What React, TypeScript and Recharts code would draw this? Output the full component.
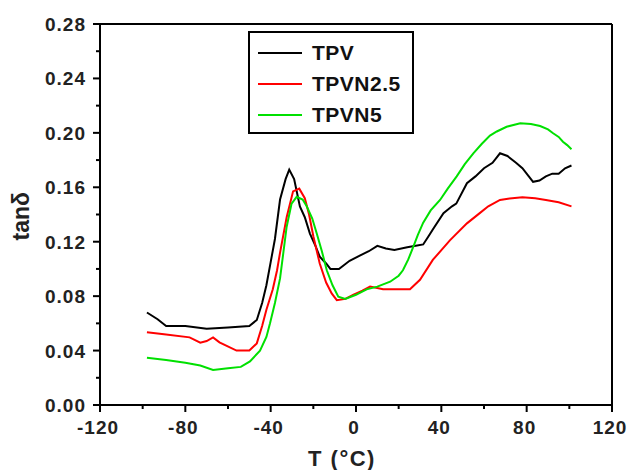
import { LineChart, Line, XAxis, YAxis, ReferenceLine, Legend } from "recharts";

const tpvT = [-98, -93, -89, -80, -70, -60, -50, -46.5, -44, -42, -40, -38, -35.6, -33, -31.3, -29, -26.3, -24, -21.6, -19, -17, -14, -12, -8, -3, 2, 6, 10, 14, 18, 24, 28, 31.5, 34, 36, 41, 45, 47, 52, 56, 60, 64, 67.5, 71, 75, 78, 81, 83, 86, 89, 92, 95, 98, 101];
const tpvV = [0.068, 0.063, 0.058, 0.058, 0.056, 0.057, 0.058, 0.0625, 0.075, 0.088, 0.105, 0.122, 0.151, 0.166, 0.173, 0.166, 0.146, 0.138, 0.126, 0.117, 0.109, 0.104, 0.1, 0.1, 0.106, 0.11, 0.113, 0.117, 0.115, 0.114, 0.116, 0.117, 0.118, 0.124, 0.129, 0.141, 0.146, 0.148, 0.163, 0.168, 0.174, 0.178, 0.185, 0.183, 0.178, 0.174, 0.168, 0.164, 0.165, 0.168, 0.17, 0.17, 0.174, 0.176];

const n25T = [-98, -90, -78, -73, -70, -67, -64, -60.6, -56, -50, -46.5, -44, -42, -39, -37, -35.6, -32.5, -29.5, -26.6, -24, -22, -20, -17, -14, -11.4, -9, -5, -1.4, 3, 6.6, 12.7, 20, 25.3, 30, 36, 44, 52, 58, 62, 67.5, 72, 78, 84, 89, 95, 101];
const n25V = [0.0534, 0.052, 0.0497, 0.0458, 0.047, 0.0497, 0.046, 0.0434, 0.04, 0.04, 0.0453, 0.058, 0.07, 0.085, 0.099, 0.112, 0.138, 0.157, 0.159, 0.152, 0.14, 0.124, 0.104, 0.09, 0.082, 0.077, 0.078, 0.081, 0.084, 0.087, 0.085, 0.085, 0.085, 0.092, 0.1066, 0.121, 0.1335, 0.141, 0.146, 0.1507, 0.1517, 0.1526, 0.152, 0.1507, 0.149, 0.146];

const n5T = [-98, -89, -80, -73, -67, -60, -54, -49.7, -45, -42, -40.3, -38, -35.6, -32.5, -30.2, -27.8, -25, -23.1, -20.5, -18.4, -16, -13.7, -11, -8.3, -5, 0, 5, 10, 16, 20, 22, 24.5, 26.8, 29, 31.5, 35, 39.4, 43, 47.2, 51, 55, 59, 62.8, 66, 70.6, 77, 82, 86.3, 90, 92.4, 95, 97, 99, 101];
const n5V = [0.0348, 0.033, 0.031, 0.029, 0.0257, 0.027, 0.028, 0.032, 0.04, 0.05, 0.06, 0.075, 0.093, 0.131, 0.148, 0.153, 0.151, 0.146, 0.137, 0.126, 0.113, 0.099, 0.088, 0.0796, 0.078, 0.081, 0.085, 0.087, 0.0906, 0.095, 0.099, 0.107, 0.116, 0.125, 0.134, 0.143, 0.1507, 0.159, 0.168, 0.177, 0.185, 0.192, 0.198, 0.201, 0.2045, 0.207, 0.2065, 0.205, 0.2025, 0.1997, 0.197, 0.1935, 0.191, 0.188];

const xTicks = [-120, -100, -80, -60, -40, -20, 0, 20, 40, 60, 80, 100, 120];
const yTicks = [0, 0.02, 0.04, 0.06, 0.08, 0.1, 0.12, 0.14, 0.16, 0.18, 0.2, 0.22, 0.24, 0.26, 0.28];

const series = [
  { name: "TPV", color: "#000000", data: tpvT.map((t, i) => ({ t, v: tpvV[i] })) },
  { name: "TPVN2.5", color: "#ff0000", data: n25T.map((t, i) => ({ t, v: n25V[i] })) },
  { name: "TPVN5", color: "#00e000", data: n5T.map((t, i) => ({ t, v: n5V[i] })) },
];

const FONT = "'Liberation Sans', Arial, sans-serif";

const XTick = ({ x, y, payload }: any) => {
  const major = payload.value % 40 === 0;
  return (
    <g>
      <line x1={x} x2={x} y1={y} y2={y + (major ? 7 : 4)} stroke="#000" strokeWidth={2} />
      {major && (
        <text x={x - 2} y={y + 29} textAnchor="middle" fontFamily={FONT} fontWeight="bold" fontSize={19} letterSpacing={1} fill="#222">
          {payload.value}
        </text>
      )}
    </g>
  );
};

const YTick = ({ x, y, payload }: any) => {
  const major = Math.round(payload.value * 100) % 4 === 0;
  return (
    <g>
      <line x1={x - (major ? 7 : 4)} x2={x} y1={y} y2={y} stroke="#000" strokeWidth={2} />
      {major && (
        <text x={x - 14} y={y + 7} textAnchor="end" fontFamily={FONT} fontWeight="bold" fontSize={19} letterSpacing={1} fill="#222">
          {payload.value.toFixed(2)}
        </text>
      )}
    </g>
  );
};

const LegendBox = () => (
  <div style={{ border: "2px solid #000", width: 162, height: 95, paddingTop: 4, boxSizing: "content-box", background: "#fff" }}>
    {series.map((s) => (
      <div key={s.name} style={{ display: "flex", alignItems: "center", height: 31 }}>
        <div style={{ marginLeft: 8, width: 44, height: 2, background: s.color }} />
        <span style={{ marginLeft: 10, fontFamily: FONT, fontWeight: "bold", fontSize: 21, letterSpacing: 0.5, color: "#111" }}>{s.name}</span>
      </div>
    ))}
  </div>
);

export default function App() {
  return (
    <div style={{ position: "absolute", left: 0, top: 0, width: 632, height: 470, background: "#fff" }}>
      <LineChart width={632} height={470} margin={{ top: 24, right: 20, bottom: 0, left: 30 }}>
        <XAxis
          type="number"
          dataKey="t"
          domain={[-120, 120]}
          ticks={xTicks}
          interval={0}
          tickSize={0}
          tickMargin={0}
          tick={<XTick />}
          axisLine={{ stroke: "#000", strokeWidth: 2 }}
          height={65}
          allowDuplicatedCategory={false}
          label={{ value: "T (°C)", position: "insideBottom", offset: 0, dx: -14, dy: -4, fontFamily: FONT, fontWeight: "bold", fontSize: 22, letterSpacing: 1.5, fill: "#222" }}
        />
        <YAxis
          type="number"
          dataKey="v"
          domain={[0, 0.28]}
          ticks={yTicks}
          interval={0}
          tickSize={0}
          tickMargin={0}
          tick={<YTick />}
          axisLine={{ stroke: "#000", strokeWidth: 2 }}
          width={70}
          label={{ value: "tanδ", angle: -90, position: "insideLeft", offset: 0, dx: -9, dy: 26, fontFamily: FONT, fontWeight: "bold", fontSize: 23, fill: "#222" }}
        />
        <ReferenceLine y={0.28} stroke="#000" strokeWidth={2} />
        <ReferenceLine x={120} stroke="#000" strokeWidth={2} />
        {series.map((s) => (
          <Line
            key={s.name}
            data={s.data}
            dataKey="v"
            name={s.name}
            type="linear"
            stroke={s.color}
            strokeWidth={2}
            dot={false}
            isAnimationActive={false}
          />
        ))}
        <Legend
          layout="vertical"
          align="center"
          verticalAlign="middle"
          content={<LegendBox />}
          wrapperStyle={{ position: "absolute", left: 248, top: 31, width: "auto" }}
        />
      </LineChart>
    </div>
  );
}
